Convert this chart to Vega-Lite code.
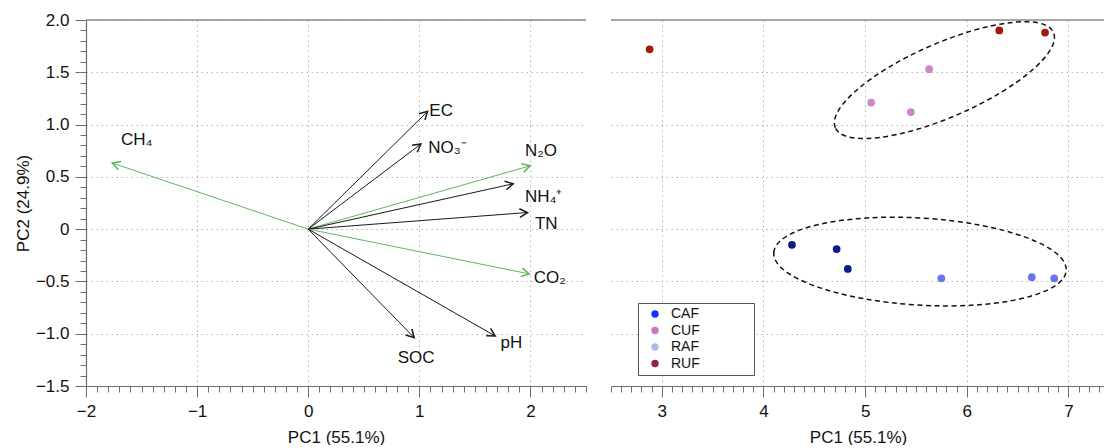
{
  "$schema": "https://vega.github.io/schema/vega-lite/v6.json",
  "padding": {"left": 14, "top": 11, "right": 0, "bottom": 0},
  "spacing": 23,
  "config": {
    "font": "Liberation Sans",
    "view": {"stroke": null},
    "axis": {
      "labelFontSize": 17, "titleFontSize": 17, "titleFontWeight": "normal",
      "labelColor": "#111", "titleColor": "#111",
      "domainColor": "#6e6e6e", "tickColor": "#6e6e6e", "domainWidth": 1.2, "tickWidth": 1,
      "gridColor": "#b5b5b5", "gridDash": [1.5, 3.5], "gridWidth": 1
    }
  },
  "resolve": {"scale": {"color": "independent"}, "legend": {"color": "independent"}},
  "datasets": {
    "arrows": [
      {"var": "CH₄", "kind": "gas", "x": -1.764, "y": 0.632, "lx": -1.685, "ly": 0.80},
      {"var": "EC", "kind": "soil", "x": 1.074, "y": 1.126, "lx": 1.09, "ly": 1.078},
      {"var": "NO₃⁻", "kind": "soil", "x": 1.014, "y": 0.814, "lx": 1.08, "ly": 0.728},
      {"var": "N₂O", "kind": "gas", "x": 1.998, "y": 0.606, "lx": 1.95, "ly": 0.695},
      {"var": "NH₄⁺", "kind": "soil", "x": 1.845, "y": 0.434, "lx": 1.95, "ly": 0.264},
      {"var": "TN", "kind": "soil", "x": 1.974, "y": 0.159, "lx": 2.04, "ly": 0.0},
      {"var": "CO₂", "kind": "gas", "x": 1.989, "y": -0.428, "lx": 2.03, "ly": -0.517},
      {"var": "pH", "kind": "soil", "x": 1.683, "y": -1.022, "lx": 1.73, "ly": -1.14},
      {"var": "SOC", "kind": "soil", "x": 0.954, "y": -1.038, "lx": 0.805, "ly": -1.283}
    ],
    "samples": [
      {"trt": "CAF", "x": 4.28, "y": -0.15},
      {"trt": "CAF", "x": 4.72, "y": -0.19},
      {"trt": "CAF", "x": 4.83, "y": -0.38},
      {"trt": "RAF", "x": 5.75, "y": -0.47},
      {"trt": "RAF", "x": 6.64, "y": -0.46},
      {"trt": "RAF", "x": 6.86, "y": -0.47},
      {"trt": "CUF", "x": 5.63, "y": 1.53},
      {"trt": "CUF", "x": 5.06, "y": 1.21},
      {"trt": "CUF", "x": 5.45, "y": 1.12},
      {"trt": "RUF", "x": 2.88, "y": 1.72},
      {"trt": "RUF", "x": 6.32, "y": 1.90},
      {"trt": "RUF", "x": 6.77, "y": 1.88}
    ],
    "ellipses": [
      {"grp": "UF", "x": 5.78, "y": 1.425},
      {"grp": "AF", "x": 5.54, "y": -0.31}
    ]
  },
  "hconcat": [
    {
      "width": 500,
      "height": 366,
      "layer": [
        {
          "data": {"values": [{}]},
          "mark": {"type": "rule", "color": "#8a8a8a", "strokeWidth": 1.5},
          "encoding": {"y": {"datum": 2, "type": "quantitative"}}
        },
        {
          "data": {"name": "arrows"},
          "mark": {"type": "rule", "strokeWidth": 1},
          "encoding": {
            "x": {
              "field": "x", "type": "quantitative",
              "scale": {"domain": [-2, 2.5], "nice": false, "zero": false},
              "axis": {
                "title": "PC1 (55.1%)",
                "values": [-2,-1.9,-1.8,-1.7,-1.6,-1.5,-1.4,-1.3,-1.2,-1.1,-1,-0.9,-0.8,-0.7,-0.6,-0.5,-0.4,-0.3,-0.2,-0.1,0,0.1,0.2,0.3,0.4,0.5,0.6,0.7,0.8,0.9,1,1.1,1.2,1.3,1.4,1.5,1.6,1.7,1.8,1.9,2,2.1,2.2,2.3,2.4,2.5],
                "tickCount": 500,
                "grid": true,
                "gridOpacity": {"condition": {"test": "abs(datum.value-round(datum.value))<0.01", "value": 1}, "value": 0},
                "tickSize": {"condition": {"test": "abs(datum.value-round(datum.value))<0.01", "value": 11}, "value": 6},
                "labelExpr": "abs(datum.value-round(datum.value))<0.01 ? format(round(datum.value),'d') : ''",
                "labelOverlap": false, "labelFlush": false, "labelPadding": 6, "titlePadding": 10
              }
            },
            "y": {
              "field": "y", "type": "quantitative",
              "scale": {"domain": [-1.5, 2.0], "nice": false, "zero": false},
              "axis": {
                "title": "PC2 (24.9%)",
                "values": [-1.5,-1.4,-1.3,-1.2,-1.1,-1,-0.9,-0.8,-0.7,-0.6,-0.5,-0.4,-0.3,-0.2,-0.1,0,0.1,0.2,0.3,0.4,0.5,0.6,0.7,0.8,0.9,1,1.1,1.2,1.3,1.4,1.5,1.6,1.7,1.8,1.9,2],
                "tickCount": 500,
                "grid": true,
                "gridOpacity": {"condition": {"test": "abs(datum.value*2-round(datum.value*2))<0.01", "value": 1}, "value": 0},
                "tickSize": {"condition": {"test": "abs(datum.value*2-round(datum.value*2))<0.01", "value": 11}, "value": 6},
                "labelExpr": "abs(datum.value*2-round(datum.value*2))<0.01 ? (abs(datum.value)<0.01 ? '0' : format(datum.value,'.1f')) : ''",
                "labelOverlap": false, "labelFlush": false, "labelPadding": 6, "titlePadding": 3
              }
            },
            "x2": {"datum": 0},
            "y2": {"datum": 0},
            "color": {"field": "kind", "type": "nominal", "scale": {"domain": ["gas", "soil"], "range": ["#5cb85c", "#1a1a1a"]}, "legend": null}
          }
        },
        {
          "data": {"name": "arrows"},
          "transform": [{"calculate": "atan2(datum.x*111.1, datum.y*104.4)*180/PI", "as": "ang"}],
          "mark": {"type": "point", "shape": "M-0.55,1L0,0L0.55,1", "filled": false, "size": 250, "strokeWidth": 1.5, "opacity": 1},
          "encoding": {
            "x": {"field": "x", "type": "quantitative"},
            "y": {"field": "y", "type": "quantitative"},
            "angle": {"field": "ang", "type": "quantitative", "scale": null},
            "color": {"field": "kind", "type": "nominal", "legend": null}
          }
        },
        {
          "data": {"name": "arrows"},
          "mark": {"type": "text", "align": "left", "baseline": "alphabetic", "fontSize": 17, "color": "#111"},
          "encoding": {
            "x": {"field": "lx", "type": "quantitative"},
            "y": {"field": "ly", "type": "quantitative"},
            "text": {"field": "var"}
          }
        }
      ]
    },
    {
      "width": 494,
      "height": 366,
      "resolve": {"scale": {"color": "independent"}, "legend": {"color": "independent"}},
      "layer": [
        {
          "data": {"values": [{}]},
          "mark": {"type": "rule", "color": "#8a8a8a", "strokeWidth": 1.5},
          "encoding": {"y": {"datum": 2, "type": "quantitative"}}
        },
        {
          "data": {"name": "samples"},
          "mark": {"type": "circle", "size": 60, "opacity": 1},
          "encoding": {
            "x": {
              "field": "x", "type": "quantitative",
              "scale": {"domain": [2.5, 7.36], "nice": false, "zero": false},
              "axis": {
                "title": "PC1 (55.1%)",
                "values": [2.5,2.6,2.7,2.8,2.9,3,3.1,3.2,3.3,3.4,3.5,3.6,3.7,3.8,3.9,4,4.1,4.2,4.3,4.4,4.5,4.6,4.7,4.8,4.9,5,5.1,5.2,5.3,5.4,5.5,5.6,5.7,5.8,5.9,6,6.1,6.2,6.3,6.4,6.5,6.6,6.7,6.8,6.9,7,7.1,7.2,7.3],
                "tickCount": 500,
                "grid": true,
                "gridOpacity": {"condition": {"test": "abs(datum.value-round(datum.value))<0.01", "value": 1}, "value": 0},
                "tickSize": {"condition": {"test": "abs(datum.value-round(datum.value))<0.01", "value": 11}, "value": 6},
                "labelExpr": "abs(datum.value-round(datum.value))<0.01 ? format(round(datum.value),'d') : ''",
                "labelOverlap": false, "labelFlush": false, "labelPadding": 6, "titlePadding": 10
              }
            },
            "y": {
              "field": "y", "type": "quantitative",
              "scale": {"domain": [-1.5, 2.0], "nice": false, "zero": false},
              "axis": {
                "title": null, "values": [-1, -0.5, 0, 0.5, 1, 1.5], "tickCount": 50,
                "labels": false, "ticks": false, "domain": false, "grid": true
              }
            },
            "color": {"field": "trt", "type": "nominal", "scale": {"domain": ["CAF", "CUF", "RAF", "RUF"], "range": ["#0c1c8c", "#cc88cc", "#6677ee", "#9e1b0e"]}, "legend": null}
          }
        },
        {
          "data": {"name": "ellipses"},
          "transform": [{"filter": "datum.grp == 'UF'"}],
          "mark": {"type": "point", "shape": "M-1,0A1,0.31,0,1,1,1,0A1,0.31,0,1,1,-1,0Z", "filled": false, "size": 56644, "angle": 336.4, "color": "#111", "strokeWidth": 1.5, "strokeDash": [5, 3.5], "opacity": 1},
          "encoding": {
            "x": {"field": "x", "type": "quantitative"},
            "y": {"field": "y", "type": "quantitative"}
          }
        },
        {
          "data": {"name": "ellipses"},
          "transform": [{"filter": "datum.grp == 'AF'"}],
          "mark": {"type": "point", "shape": "M-1,0A1,0.297,0,1,1,1,0A1,0.297,0,1,1,-1,0Z", "filled": false, "size": 85849, "angle": 3.5, "color": "#111", "strokeWidth": 1.5, "strokeDash": [5, 3.5], "opacity": 1},
          "encoding": {
            "x": {"field": "x", "type": "quantitative"},
            "y": {"field": "y", "type": "quantitative"}
          }
        },
        {
          "data": {"name": "samples"},
          "transform": [{"filter": "datum.x > 100"}],
          "mark": {"type": "circle", "size": 55, "opacity": 1},
          "encoding": {
            "x": {"field": "x", "type": "quantitative"},
            "y": {"field": "y", "type": "quantitative"},
            "color": {
              "field": "trt", "type": "nominal",
              "scale": {"domain": ["CAF", "CUF", "RAF", "RUF"], "range": ["#1133ff", "#cc77bb", "#a9bbee", "#992244"]},
              "legend": {
                "orient": "none", "legendX": 27, "legendY": 283, "direction": "vertical",
                "title": null, "padding": 4, "strokeColor": "#555", "fillColor": "white",
                "symbolType": "circle", "symbolSize": 55, "symbolOpacity": 1, "symbolOffset": 6,
                "labelFontSize": 14, "labelColor": "#111", "labelOffset": 9, "rowPadding": 2.5,
                "labelExpr": "datum.label + '⠀⠀⠀⠀⠀'"
              }
            }
          }
        }
      ]
    }
  ]
}
